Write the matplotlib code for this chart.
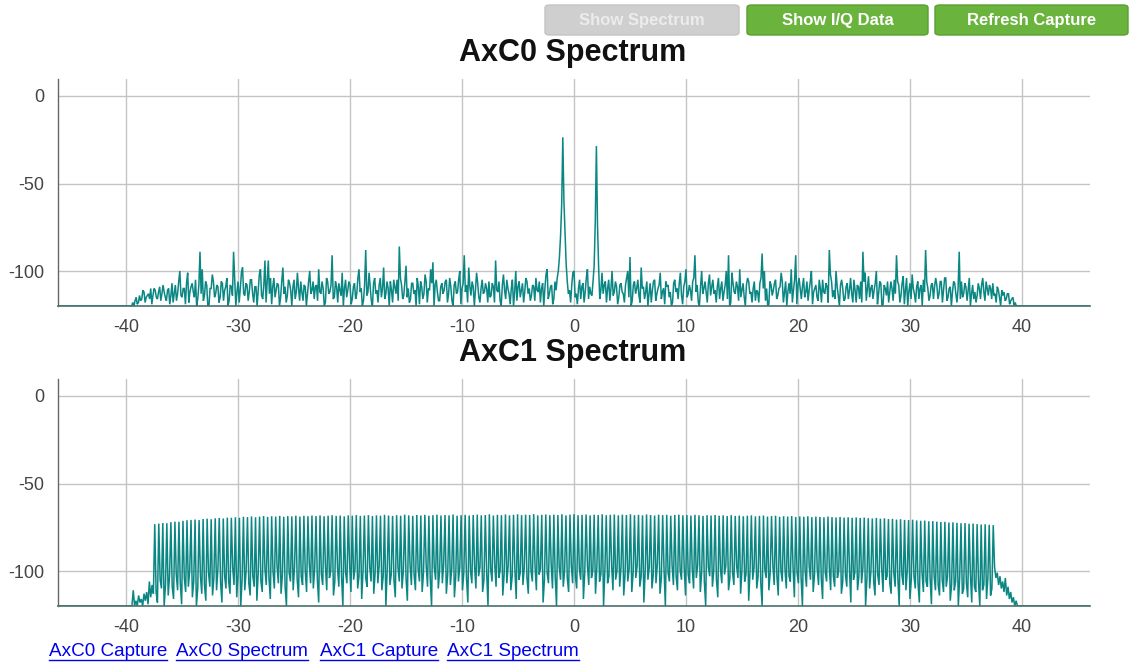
import numpy as np
import matplotlib
matplotlib.use("Agg")
import matplotlib.pyplot as plt
from matplotlib.patches import FancyBboxPatch
from matplotlib.lines import Line2D

# ---------------- data ----------------
titles = ["AxC0 Spectrum", "AxC1 Spectrum"]
x_ticks = [-40, -30, -20, -10, 0, 10, 20, 30, 40]
y_ticks = [0, -50, -100]
x_range = (-46.08, 46.08)
y_range = (-120, 10)
buttons = ["Show Spectrum", "Show I/Q Data", "Refresh Capture"]
links = ["AxC0 Capture", "AxC0 Spectrum", "AxC1 Capture", "AxC1 Spectrum"]

# AxC0: noise floor across band -39.6 .. 39.6 MHz (dB), samples every 0.2 MHz
axc0_band = (-39.6, 39.6)
axc0_noise = [
    -120, -118, -117, -119, -114, -116, -112, -115, -113, -110, -114, -111, -116, -109, -113, -112, -117, -110, -114, -118,
    -108, -113, -100, -115, -110, -107, -118, -109, -112, -105, -116, -111, -99, -114, -108, -120, -110, -106, -113, -109,
    -115, -107, -111, -104, -117, -109, -113, -120, -106, -110, -98, -114, -108, -112, -105, -118, -109, -111, -99, -116,
    -110, -106, -113, -119, -104, -111, -108, -115, -98, -109, -114, -107, -120, -105, -112, -110, -106, -117, -109, -113,
    -100, -111, -116, -108, -99, -113, -110, -118, -106, -112, -98, -115, -109, -107, -114, -120, -105, -111, -108, -116,
    -107, -113, -99, -110, -117, -106, -112, -109, -120, -104, -111, -108, -115, -98, -113, -110, -106, -118, -109, -105,
    -112, -108, -114, -97, -110, -116, -107, -111, -104, -119, -109, -113, -106, -110, -99, -115, -108, -112, -117, -107,
    -111, -105, -113, -109, -120, -106, -112, -100, -110, -115, -108, -98, -114, -109, -111, -107, -118, -105, -112, -110,
    -106, -114, -109, -99, -112, -117, -108, -111, -105, -113, -110, -120, -100, -109, -115, -107, -112, -106, -110, -114,
    -109, -104, -112, -118, -107, -110, -99, -113, -108, -116, -111, -105, -109, -114, -120, -106, -111, -108, -100, -113,
    -110, -116, -107, -112, -99, -109, -114, -108, -119, -105, -111, -113, -106, -110, -117, -100, -112, -109, -115, -107,
    -113, -108, -100, -111, -117, -106, -110, -114, -98, -109, -112, -120, -107, -111, -105, -113, -108, -116, -110, -106,
    -108, -112, -118, -105, -110, -107, -114, -109, -99, -113, -111, -106, -115, -108, -120, -100, -110, -112, -107, -114,
    -105, -111, -109, -116, -106, -112, -100, -110, -118, -107, -113, -109, -99, -111, -115, -108, -106, -112, -110, -117,
    -112, -107, -113, -100, -110, -119, -108, -111, -105, -114, -109, -106, -112, -120, -107, -99, -111, -113, -108, -110,
    -109, -115, -106, -111, -100, -112, -108, -117, -110, -105, -113, -109, -120, -106, -111, -100, -114, -108, -110, -116,
    -107, -111, -113, -105, -118, -109, -106, -112, -101, -110, -115, -108, -111, -100, -113, -107, -119, -110, -106, -112,
    -110, -105, -112, -108, -114, -103, -111, -120, -107, -102, -113, -109, -116, -108, -105, -112, -110, -114, -107, -109,
    -108, -113, -106, -111, -104, -115, -109, -112, -107, -118, -110, -106, -113, -109, -111, -120, -108, -112, -114, -110,
    -108, -112, -106, -114, -110, -107, -113, -109, -115, -111, -112, -116, -113, -117, -115, -118, -120,
]
# samples half-way between the ones above
axc0_noise_mid = [
    -120, -120, -115, -118, -117, -111, -118, -114, -116, -119, -110, -115, -112, -117, -108, -115, -111, -119, -107, -113,
    -117, -106, -114, -110, -119, -101, -112, -107, -115, -120, -108, -113, -117, -106, -120, -110, -102, -115, -108, -118,
    -106, -117, -109, -120, -108, -114, -104, -112, -118, -101, -113, -107, -117, -105, -113, -109, -120, -102, -114, -108,
    -118, -112, -104, -109, -115, -107, -120, -106, -113, -118, -105, -111, -109, -116, -101, -117, -112, -108, -120, -106,
    -113, -106, -109, -117, -112, -106, -120, -104, -113, -108, -116, -106, -118, -111, -101, -110, -115, -106, -119, -109,
    -116, -104, -112, -120, -108, -114, -101, -117, -107, -113, -118, -104, -110, -116, -106, -120, -111, -105, -113, -117,
    -104, -116, -106, -115, -118, -107, -113, -120, -109, -106, -116, -102, -118, -111, -107, -120, -105, -117, -109, -113,
    -106, -118, -104, -117, -108, -113, -105, -119, -107, -112, -118, -109, -106, -120, -101, -115, -110, -113, -107, -118,
    -115, -107, -118, -111, -106, -120, -102, -116, -110, -119, -105, -112, -117, -106, -111, -118, -104, -113, -117, -108,
    -117, -111, -106, -110, -120, -102, -116, -109, -119, -106, -104, -117, -113, -107, -110, -113, -118, -101, -115, -119,
    -105, -109, -118, -104, -116, -113, -106, -120, -110, -116, -101, -108, -118, -105, -110, -114, -106, -119, -108, -112,
    -118, -104, -115, -120, -108, -113, -105, -118, -110, -116, -106, -113, -118, -106, -117, -110, -101, -112, -119, -109,
    -115, -120, -107, -112, -116, -101, -119, -106, -115, -108, -117, -104, -112, -118, -109, -113, -106, -118, -102, -109,
    -113, -118, -104, -110, -117, -108, -116, -120, -101, -112, -106, -117, -115, -107, -120, -104, -113, -118, -106, -111,
    -118, -104, -110, -117, -120, -106, -114, -107, -116, -110, -101, -118, -106, -112, -113, -118, -105, -119, -104, -116,
    -104, -112, -117, -106, -119, -110, -115, -105, -118, -112, -107, -118, -102, -115, -116, -109, -120, -105, -117, -109,
    -116, -104, -118, -111, -108, -116, -118, -106, -117, -103, -110, -116, -107, -119, -106, -120, -108, -114, -118, -106,
    -117, -113, -106, -118, -107, -119, -104, -112, -116, -110, -118, -106, -110, -120, -112, -106, -117, -108, -116, -104,
    -116, -106, -118, -104, -117, -110, -120, -106, -113, -110, -116, -115, -107, -117, -104, -113, -116, -118, -107, -116,
    -104, -117, -110, -108, -116, -114, -118, -111, -120, -114, -117, -113, -119, -116, -120, -120,
]
axc0_spur_freq = [-33.4, -30.4, -27.6, -27.3, -21.6, -18.6, -15.6, -12.6, -9.8, -7.0,
                  5.0, 10.8, 13.8, 16.8, 19.8, 22.8, 25.8, 28.8, 31.4, 34.4]
axc0_spur_level = [-89, -89, -94, -94, -91, -88, -86, -95, -91, -94,
                   -92, -91, -91, -90, -91, -88, -89, -91, -88, -89]
axc0_tone_freq = [-1.4, -1.3, -1.2, -1.1, -1.0, -0.9, -0.8, -0.7,
                  1.8, 1.9, 2.0, 2.1, 2.2]
axc0_tone_level = [-100, -92, -80, -62, -23.6, -60, -78, -96,
                   -97, -72, -28.6, -74, -98]

# AxC1: comb of spikes, spacing ~0.36 MHz from -37.44 to 37.44 MHz
axc1_comb_start = -37.44
axc1_comb_step = 0.36
axc1_spike_level = [
    -73.2, -72.9, -72.6, -72.7, -72.1, -71.8, -71.9, -71.3, -71.0, -70.8, -70.6, -70.9, -70.3, -70.1, -70.4, -69.9, -69.7, -70.0, -69.5, -69.6,
    -69.3, -69.6, -69.0, -69.2, -68.8, -69.3, -68.9, -68.6, -69.1, -68.7, -68.9, -68.5, -69.0, -68.6, -68.8, -68.4, -68.9, -68.5, -68.7, -68.3,
    -68.6, -68.2, -68.7, -68.4, -68.1, -68.5, -68.3, -68.8, -68.2, -68.4, -68.0, -68.5, -68.3, -68.1, -68.6, -68.2, -68.4, -67.9, -68.3, -68.5,
    -68.1, -68.4, -67.8, -68.2, -68.5, -68.0, -68.3, -67.9, -68.4, -68.1, -67.8, -68.3, -68.0, -68.2, -67.7, -68.4, -68.1, -67.9, -68.3, -68.0,
    -67.8, -68.2, -68.0, -67.6, -68.3, -67.9, -68.1, -67.7, -68.2, -67.9, -67.6, -68.1, -67.8, -68.0, -67.5, -68.2, -67.9, -67.7, -68.1, -67.8,
    -68.0, -67.6, -68.2, -67.8, -67.5, -68.1, -67.9, -67.7, -68.2, -67.8, -68.0, -67.6, -68.1, -67.9, -67.7, -68.2, -67.8, -68.0, -67.6, -68.1,
    -67.9, -68.2, -67.7, -68.0, -68.3, -67.8, -68.1, -67.9, -68.4, -68.0, -67.8, -68.2, -68.0, -68.3, -67.9, -68.2, -68.5, -68.1, -68.3, -68.0,
    -68.4, -68.2, -68.6, -68.1, -68.5, -68.3, -68.7, -68.4, -68.2, -68.8, -68.5, -68.3, -68.9, -68.6, -68.4, -69.0, -68.7, -68.9, -68.6, -69.1,
    -68.8, -69.0, -68.7, -69.2, -68.9, -69.1, -69.3, -68.9, -69.2, -69.4, -69.1, -69.5, -69.3, -69.6, -69.4, -69.7, -69.5, -69.8, -70.0, -69.7,
    -70.1, -69.9, -70.3, -70.2, -70.6, -70.4, -70.8, -70.9, -70.7, -71.1, -71.3, -71.2, -71.6, -71.5, -71.8, -72.0, -71.9, -72.3, -72.2, -72.5,
    -72.7, -72.6, -73.0, -72.9, -73.2, -73.4, -73.3, -73.6, -73.8,
]
# two floor samples between consecutive spikes
axc1_floor_level = [
    -112, -118, -105, -110, -120, -108, -114, -103, -109, -116, -102, -111, -107, -119, -104, -112, -109, -100, -115, -106, -120, -110, -103, -113, -108, -117,
    -101, -109, -114, -104, -111, -99, -107, -118, -103, -110, -106, -113, -98, -108, -115, -102, -120, -105, -111, -100, -107, -114, -103, -109, -117, -101,
    -106, -112, -99, -108, -104, -116, -100, -110, -97, -107, -113, -102, -109, -120, -101, -106, -111, -98, -105, -115, -103, -108, -100, -112, -96, -107,
    -110, -99, -105, -118, -102, -108, -97, -111, -104, -100, -114, -106, -98, -109, -103, -120, -101, -107, -96, -112, -105, -99, -110, -103, -116, -100,
    -104, -109, -98, -106, -113, -101, -107, -97, -111, -103, -120, -99, -108, -102, -105, -115, -98, -106, -110, -100, -104, -117, -97, -108, -102, -111,
    -99, -106, -112, -101, -97, -109, -104, -120, -98, -105, -110, -100, -107, -96, -113, -102, -108, -99, -115, -103, -106, -98, -111, -101, -104, -118,
    -100, -107, -97, -110, -103, -98, -112, -105, -101, -120, -99, -106, -96, -109, -104, -100, -114, -102, -107, -97, -111, -103, -99, -116, -105, -101,
    -108, -98, -104, -113, -100, -106, -97, -111, -102, -99, -118, -105, -101, -107, -96, -110, -103, -120, -98, -105, -109, -100, -104, -112, -97, -107,
    -103, -110, -99, -105, -116, -101, -97, -108, -104, -100, -113, -98, -106, -102, -120, -99, -107, -103, -97, -111, -105, -100, -109, -98, -114, -102,
    -106, -99, -112, -101, -104, -97, -109, -103, -118, -100, -105, -98, -110, -102, -107, -96, -113, -104, -99, -120, -101, -106, -97, -108, -103, -111,
    -100, -105, -98, -114, -102, -107, -99, -110, -104, -97, -112, -101, -106, -120, -98, -103, -109, -100, -105, -115, -99, -107, -102, -97, -111, -104,
    -101, -108, -97, -104, -113, -99, -106, -102, -117, -100, -105, -98, -110, -103, -107, -120, -99, -104, -111, -101, -97, -108, -103, -114, -100, -106,
    -99, -110, -103, -106, -98, -115, -101, -107, -104, -120, -100, -109, -97, -105, -112, -102, -99, -108, -104, -116, -101, -106, -98, -111, -103, -109,
    -104, -100, -113, -106, -102, -109, -99, -118, -105, -101, -111, -103, -107, -98, -120, -104, -110, -100, -106, -114, -102, -108, -99, -112, -105, -103,
    -107, -113, -101, -109, -104, -120, -102, -108, -111, -100, -116, -105, -103, -110, -107, -118, -101, -112, -106, -109, -104, -119, -103, -111, -108, -114,
    -105, -112, -109, -103, -117, -108, -111, -106, -120, -104, -113, -110, -107, -115, -102, -118, -109, -112, -106, -120, -111, -108, -116, -104, -114, -110,
]
axc1_left_edge_band = (-39.6, -37.56)
axc1_left_edge_level = [-120, -120, -111, -120, -117, -120, -114, -118, -116, -120,
                        -113, -117, -112, -119, -106, -115, -108, -113]
axc1_right_edge_band = (37.56, 39.6)
axc1_right_edge_level = [-98, -104, -101, -108, -103, -110, -106, -112, -104, -114,
                         -109, -116, -112, -118, -115, -120, -117, -120]

# ---------------- build series ----------------
def axc0_series():
    n = len(axc0_noise)
    y = []
    for i in range(n):
        y.append(axc0_noise[i])
        if i < n - 1 and i < len(axc0_noise_mid):
            y.append(axc0_noise_mid[i])
    y = np.array(y, dtype=float)
    x = np.linspace(axc0_band[0], axc0_band[1], len(y))
    step = x[1] - x[0]
    for f, v in list(zip(axc0_spur_freq, axc0_spur_level)) + list(zip(axc0_tone_freq, axc0_tone_level)):
        i = int(round((f - axc0_band[0]) / step))
        y[i] = v
    x = np.concatenate([[x_range[0]], x, [x_range[1]]])
    y = np.concatenate([[-120], y, [-120]])
    return x, y


def axc1_series():
    xs, ys = [], []
    xs += [x_range[0], axc1_left_edge_band[0]]
    ys += [-120, -120]
    xs += list(np.linspace(*axc1_left_edge_band, len(axc1_left_edge_level)))
    ys += axc1_left_edge_level
    sub = axc1_comb_step / 3.0
    for j, lvl in enumerate(axc1_spike_level):
        f0 = axc1_comb_start + j * axc1_comb_step
        xs.append(f0)
        ys.append(lvl)
        fl = axc1_floor_level[2 * j:2 * j + 2] if j < len(axc1_spike_level) - 1 else []
        for k, v in enumerate(fl):
            xs.append(f0 + (k + 1) * sub)
            ys.append(v)
    xs += list(np.linspace(*axc1_right_edge_band, len(axc1_right_edge_level)))
    ys += axc1_right_edge_level
    xs += [axc1_right_edge_band[1], x_range[1]]
    ys += [-120, -120]
    return np.array(xs), np.array(ys)


series = [axc0_series(), axc1_series()]

# ---------------- figure ----------------
W, H = 1133, 663
fig = plt.figure(figsize=(W / 100, H / 100), dpi=100)
fig.patch.set_facecolor("white")

line_color = "#0b8783"
axes_px = [(58, 78.5, 1090, 306), (58, 378.5, 1090, 606)]  # left, top, right, bottom in px
title_y_px = [53, 353]

for (x0, y0, x1, y1), (sx, sy), title, ty in zip(axes_px, series, titles, title_y_px):
    ax = fig.add_axes([x0 / W, 1 - y1 / H, (x1 - x0) / W, (y1 - y0) / H])
    ax.plot(sx, sy, color=line_color, lw=1.1, solid_joinstyle="miter")
    ax.set_xlim(*x_range)
    ax.set_ylim(*y_range)
    ax.set_xticks(x_ticks)
    ax.set_yticks(y_ticks)
    ax.set_xticklabels([str(t) for t in x_ticks])
    ax.set_yticklabels([str(t) for t in y_ticks])
    ax.grid(True, color="#c4c4c4", lw=1.0)
    ax.set_axisbelow(True)
    for s in ["top", "right"]:
        ax.spines[s].set_visible(False)
    ax.spines["left"].set_color("#666666")
    ax.spines["bottom"].set_color("#4a6e6c")
    ax.spines["left"].set_linewidth(1.0)
    ax.spines["bottom"].set_linewidth(1.2)
    ax.tick_params(length=0, labelsize=13, labelcolor="#444444", pad=9)
    ax.tick_params(axis="y", pad=10)
    for lbl in ax.get_xticklabels() + ax.get_yticklabels():
        lbl.set_family("Liberation Sans")
    fig.text(573 / W, 1 - ty / H, title, ha="center", va="center",
             fontsize=22, fontweight="bold", family="Liberation Sans", color="#111111")

# buttons
btn_px = [(545, 5, 739, 35), (747, 5, 928, 35), (935, 5, 1128, 35)]
btn_face = ["#cfcfcf", "#6ab43e", "#6ab43e"]
btn_edge = ["#c4c4c4", "#5a9e33", "#5a9e33"]
btn_text = ["#ececec", "white", "white"]
for (bx0, by0, bx1, by1), label, fc, ec, tc in zip(btn_px, buttons, btn_face, btn_edge, btn_text):
    p = FancyBboxPatch((bx0 / W, 1 - by1 / H), (bx1 - bx0) / W, (by1 - by0) / H,
                       boxstyle="round,pad=0,rounding_size=0.004", transform=fig.transFigure,
                       facecolor=fc, edgecolor=ec, lw=1.0)
    fig.patches.append(p)
    fig.text((bx0 + bx1) / 2 / W, 1 - (by0 + by1) / 2 / H, label, ha="center", va="center",
             fontsize=12, fontweight="bold", color=tc, family="Liberation Sans")

# links
link_x = [49, 176, 320, 447]
link_texts = []
for lx, label in zip(link_x, links):
    t = fig.text(lx / W, 1 - 652 / H, label, ha="left", va="center", fontsize=13.6,
                 color="#0000ee", family="Liberation Sans")
    link_texts.append(t)

fig.canvas.draw()
r = fig.canvas.get_renderer()
for t in link_texts:
    bb = t.get_window_extent(renderer=r)
    yy = (bb.y0 + 1) / H
    fig.lines.append(Line2D([bb.x0 / W, bb.x1 / W], [yy, yy], transform=fig.transFigure,
                            color="#0000ee", lw=1.0))

fig.savefig("out.png", dpi=100, facecolor="white")
